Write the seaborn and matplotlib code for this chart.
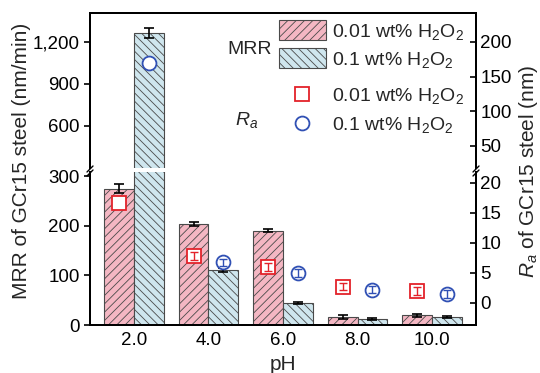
import numpy as np
import pandas as pd
import seaborn as sns
import matplotlib
matplotlib.use("Agg")
import matplotlib.pyplot as plt
from matplotlib.patches import Patch
from matplotlib.lines import Line2D
from matplotlib.ticker import StrMethodFormatter, FixedLocator

# ---------------- data ----------------
ph_labels = ["2.0", "4.0", "6.0", "8.0", "10.0"]
conc_labels = ["0.01 wt% H$_2$O$_2$", "0.1 wt% H$_2$O$_2$"]
mrr_001 = [275, 204, 190, 16, 20]
mrr_01 = [1262, 111, 44, 12, 17]
mrr_err_001 = [9, 5, 3, 4, 3]
mrr_err_01 = [35, 4, 2, 2, 2]
ra_001 = [16.7, 7.8, 6.0, 2.7, 2.0]
ra_01 = [170, 6.8, 5.0, 2.2, 1.5]
ra_err_001 = [0.0, 0.6, 0.6, 0.6, 0.6]
ra_err_01 = [0.0, 0.6, 0.6, 0.6, 0.6]

left_ticks_low = [0, 100, 200, 300]
left_ticks_high = [600, 900, 1200]
right_ticks_low = [0, 5, 10, 15, 20]
right_ticks_high = [50, 100, 150, 200]

df = pd.DataFrame({
    "pH": ph_labels * 2,
    "conc": [conc_labels[0]] * 5 + [conc_labels[1]] * 5,
    "MRR": mrr_001 + mrr_01,
})

# ---------------- style ----------------
sns.set_theme(style="white")
plt.rcParams["font.family"] = ["Liberation Sans", "DejaVu Sans"]
plt.rcParams["mathtext.fontset"] = "custom"
plt.rcParams["mathtext.rm"] = "Liberation Sans"
plt.rcParams["mathtext.it"] = "Liberation Sans:italic"
plt.rcParams["hatch.linewidth"] = 0.6
plt.rcParams["axes.edgecolor"] = "black"

pink = "#f4b7c3"
blue = "#cfe6ee"
edge = "#4a4a4a"
red = "#e3222a"
navy = "#3050b4"
hatches = ["////", "\\\\\\\\"]
TICK_FS = 13.5
LAB_FS = 15

W, H = 540, 373
fig = plt.figure(figsize=(W / 100, H / 100), dpi=100)


def rect(x0, y0, x1, y1):
    return [x0 / W, 1 - y1 / H, (x1 - x0) / W, (y1 - y0) / H]


ax_lo = fig.add_axes(rect(90, 172, 476, 325))
ax_hi = fig.add_axes(rect(90, 13, 476, 168))

LOW_MAX = 309
for ax in (ax_lo, ax_hi):
    sns.barplot(data=df, x="pH", y="MRR", hue="conc", order=ph_labels,
                hue_order=conc_labels, palette=[pink, blue], saturation=1,
                width=0.8, errorbar=None, edgecolor=edge, linewidth=0.8,
                legend=False, ax=ax)
    for cont, h, errs in zip(ax.containers, hatches, [mrr_err_001, mrr_err_01]):
        for bar in cont:
            bar.set_hatch(h)
        xs = [b.get_x() + b.get_width() / 2 for b in cont]
        ys = [b.get_height() for b in cont]
        ax.errorbar(xs, ys, yerr=errs, fmt="none", ecolor="black",
                    elinewidth=1.2, capsize=3.5, capthick=1.2, zorder=5)
    ax.set_xlim(-0.59, 4.59)
    ax.set_xlabel("")
    ax.set_ylabel("")

ax_lo.set_ylim(0, LOW_MAX)
ax_hi.set_ylim(300, 1407)
ax_lo.yaxis.set_major_locator(FixedLocator(left_ticks_low))
ax_hi.yaxis.set_major_locator(FixedLocator(left_ticks_high))
ax_hi.yaxis.set_major_formatter(StrMethodFormatter("{x:,.0f}"))

# right axes
axr_lo = ax_lo.twinx()
axr_hi = ax_hi.twinx()
axr_lo.set_ylim(-3.67, 21.8)
axr_hi.set_ylim(18.2, 241.8)
axr_lo.yaxis.set_major_locator(FixedLocator(right_ticks_low))
axr_hi.yaxis.set_major_locator(FixedLocator(right_ticks_high))

xs001 = np.array([b.get_x() + b.get_width() / 2 for b in ax_lo.containers[0]])
xs01 = np.array([b.get_x() + b.get_width() / 2 for b in ax_lo.containers[1]])

for axr, lo_lim, hi_lim in ((axr_lo, -10, 21.8), (axr_hi, 21.8, 1000)):
    for xs, vals, errs, mk, col in ((xs001, ra_001, ra_err_001, "s", red),
                                    (xs01, ra_01, ra_err_01, "o", navy)):
        vals = np.array(vals)
        errs = np.array(errs)
        m = (vals > lo_lim) & (vals <= hi_lim)
        if m.any():
            axr.plot(xs[m], vals[m], ls="none", marker=mk, mfc="white",
                     mec=col, mew=1.3, ms=10 if mk == "o" else 9.5, zorder=6)
        me = m & (errs > 0)
        if me.any():
            axr.errorbar(xs[me], vals[me], yerr=errs[me], fmt="none",
                         ecolor=col, elinewidth=1.0, capsize=3, capthick=1.0,
                         zorder=7)

# spines & ticks
for ax in (ax_lo, ax_hi, axr_lo, axr_hi):
    for s in ax.spines.values():
        s.set_linewidth(1.4)
        s.set_color("black")
ax_lo.spines["top"].set_visible(False)
axr_lo.spines["top"].set_visible(False)
ax_hi.spines["bottom"].set_visible(False)
axr_hi.spines["bottom"].set_visible(False)

for ax in (ax_lo, ax_hi):
    ax.tick_params(axis="y", direction="out", length=4, width=1.2,
                   labelsize=TICK_FS, colors="black", left=True)
    ax.tick_params(axis="x", length=0, labelsize=TICK_FS, colors="black")
for ax in (axr_lo, axr_hi):
    ax.tick_params(axis="y", direction="in", length=4, width=1.2,
                   labelsize=TICK_FS, colors="black", right=True, pad=3)
    ax.set_ylabel("")
ax_hi.tick_params(axis="x", labelbottom=False)
ax_lo.tick_params(axis="x", pad=5)

ax_lo.set_xlabel("pH", fontsize=LAB_FS, labelpad=4)

# break marks
for xpix in (90, 476):
    for dy in (0, 4):
        fig.add_artist(Line2D([(xpix - 3) / W, (xpix + 3) / W],
                              [1 - (172 + dy) / H, 1 - (166 + dy) / H],
                              color="black", lw=1.0))

# axis labels
fig.text(22 / W, 1 - 161 / H, "MRR of GCr15 steel (nm/min)", rotation=90,
         ha="center", va="center", fontsize=LAB_FS)
fig.text(529 / W, 1 - 171 / H, "$R_a$ of GCr15 steel (nm)", rotation=90,
         ha="center", va="center", fontsize=LAB_FS)

# legends
bar_handles = [Patch(facecolor=pink, edgecolor=edge, hatch=hatches[0], lw=0.8),
               Patch(facecolor=blue, edgecolor=edge, hatch=hatches[1], lw=0.8)]
fig.legend(bar_handles, conc_labels, loc="upper left",
           bbox_to_anchor=(279 / W, 1 - 20 / H), frameon=False,
           fontsize=14, handlelength=2.4, handleheight=1.2,
           handletextpad=0.35, labelspacing=0.35, borderpad=0,
           borderaxespad=0)
mk_handles = [Line2D([], [], marker="s", ls="none", mfc="white", mec=red, mew=1.3, ms=9.5),
              Line2D([], [], marker="o", ls="none", mfc="white", mec=navy, mew=1.3, ms=10)]
fig.legend(mk_handles, conc_labels, loc="upper left",
           bbox_to_anchor=(279 / W, 1 - 86 / H), frameon=False,
           fontsize=14, handlelength=2.4, handleheight=1.0,
           handletextpad=0.35, labelspacing=0.45, borderpad=0,
           borderaxespad=0)

fig.text(272 / W, 1 - 50 / H, "MRR", ha="right", va="center", fontsize=14)
fig.text(247 / W, 1 - 120 / H, "$R_a$", ha="center", va="center", fontsize=14)

fig.savefig("out.png", dpi=100, facecolor="white")
